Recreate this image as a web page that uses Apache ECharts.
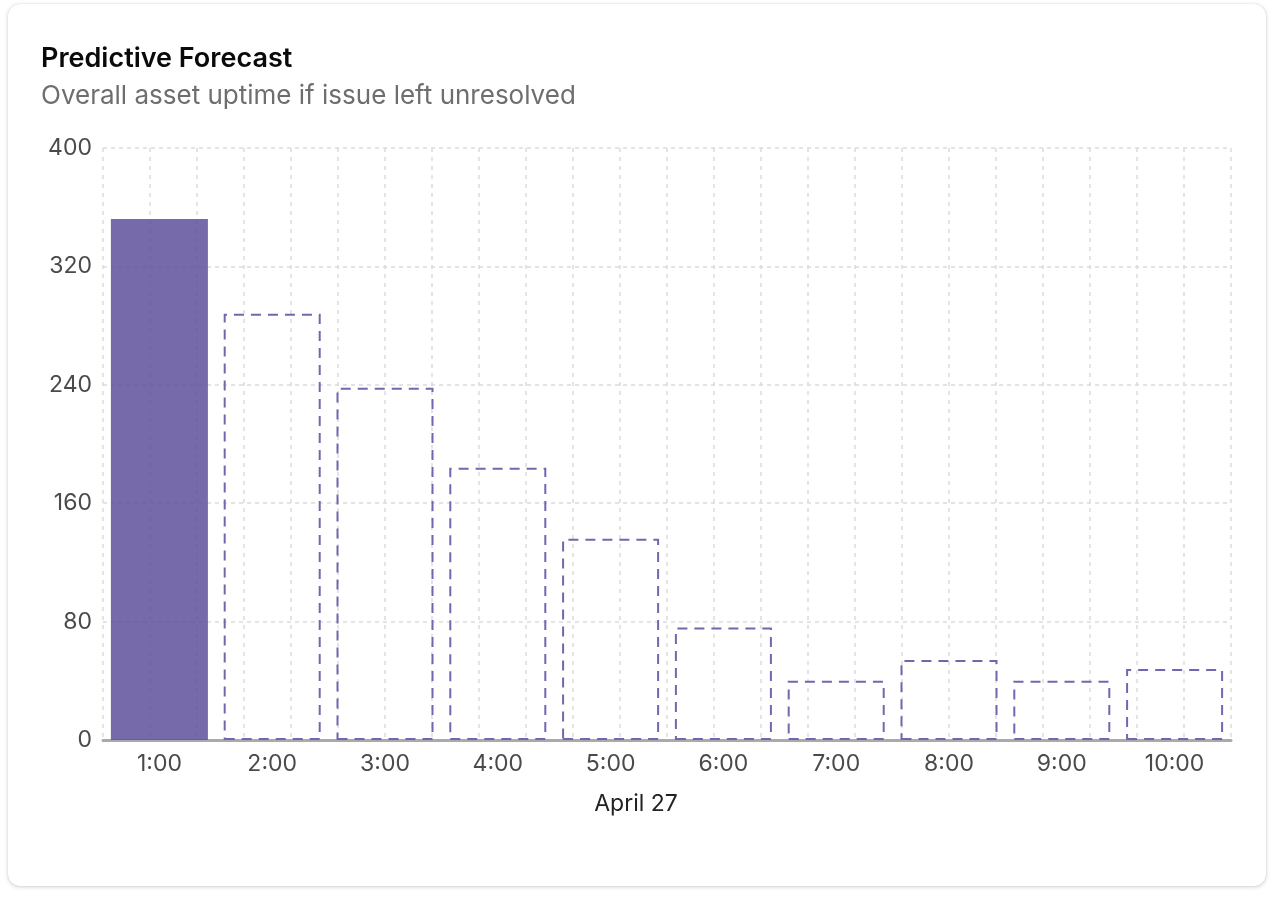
<!DOCTYPE html>
<html>
<head>
<meta charset="utf-8">
<script src="https://cdn.jsdelivr.net/npm/echarts@6/dist/echarts.min.js"></script>
<style>
  html, body { margin: 0; padding: 0; background: #ffffff; }
  #card {
    position: absolute; left: 8px; top: 4px; width: 1258px; height: 882px;
    border-radius: 12px; background: #fff;
    box-shadow: 0 1px 4px rgba(0,0,0,0.18), 0 0 1px rgba(0,0,0,0.2);
  }
  #chart { position: absolute; left: 0; top: 0; width: 1274px; height: 898px; }
</style>
</head>
<body>
<div id="card"></div>
<div id="chart"></div>
<script>
const titleText = 'Predictive Forecast';
const subtitleText = 'Overall asset uptime if issue left unresolved';
const categories = ['1:00', '2:00', '3:00', '4:00', '5:00', '6:00', '7:00', '8:00', '9:00', '10:00'];
const values = [352, 288, 238, 184, 136, 76, 40, 54, 40, 48];
const actualCount = 1; // first bar is actual, rest are forecast
const xAxisName = 'April 27';
const yTicks = { min: 0, max: 400, interval: 80 };

const chart = echarts.init(document.getElementById('chart'));
const FONT = 'Inter, "Noto Sans", sans-serif';

const barData = values.map((v, i) => i < actualCount
  ? { value: v, itemStyle: { color: 'rgba(95,82,156,0.86)' } }
  : { value: v, itemStyle: { color: 'rgba(255,255,255,0)', borderColor: '#7466ae', borderWidth: 2, borderType: [10, 7] } });

chart.setOption({
  backgroundColor: 'transparent',
  animation: false,
  title: {
    text: titleText,
    subtext: subtitleText,
    left: 41, top: 45,
    padding: 0,
    itemGap: 11,
    textStyle: { fontFamily: FONT, fontSize: 27, fontWeight: 600, color: '#0a0a0a' },
    subtextStyle: { fontFamily: FONT, fontSize: 26, color: '#6e6e6e' }
  },
  grid: { left: 103, right: 43, top: 148, bottom: 158 },
  xAxis: [
    {
      type: 'category',
      data: categories,
      name: xAxisName,
      nameLocation: 'middle',
      nameGap: 53,
      nameTextStyle: { fontFamily: FONT, fontSize: 23, color: '#222', padding: [0, 62, 0, 0] },
      axisLine: { show: true, lineStyle: { color: '#a9a9ae', width: 3 } },
      axisTick: { show: false },
      axisLabel: { fontFamily: FONT, fontSize: 23, color: '#4a4a4a', margin: 13 },
      splitLine: { show: false }
    },
    {
      type: 'value',
      min: 0, max: 24, interval: 1,
      position: 'bottom',
      axisLine: { show: false },
      axisTick: { show: false },
      axisLabel: { show: false },
      splitLine: { show: true, lineStyle: { color: '#dcdcdc', width: 1.5, type: [4, 5] } }
    }
  ],
  yAxis: {
    type: 'value',
    min: yTicks.min, max: yTicks.max, interval: yTicks.interval,
    axisLine: { show: false },
    axisTick: { show: false },
    axisLabel: { fontFamily: FONT, fontSize: 23, color: '#4a4a4a', margin: 11, padding: [2, 0, 0, 0] },
    splitLine: { show: true, lineStyle: { color: '#dcdcdc', width: 1.5, type: [4, 4] } }
  },
  series: [
    {
      type: 'bar',
      xAxisIndex: 0,
      barWidth: '86%',
      data: barData,
      z: 1
    }
  ]
});
</script>
</body>
</html>
